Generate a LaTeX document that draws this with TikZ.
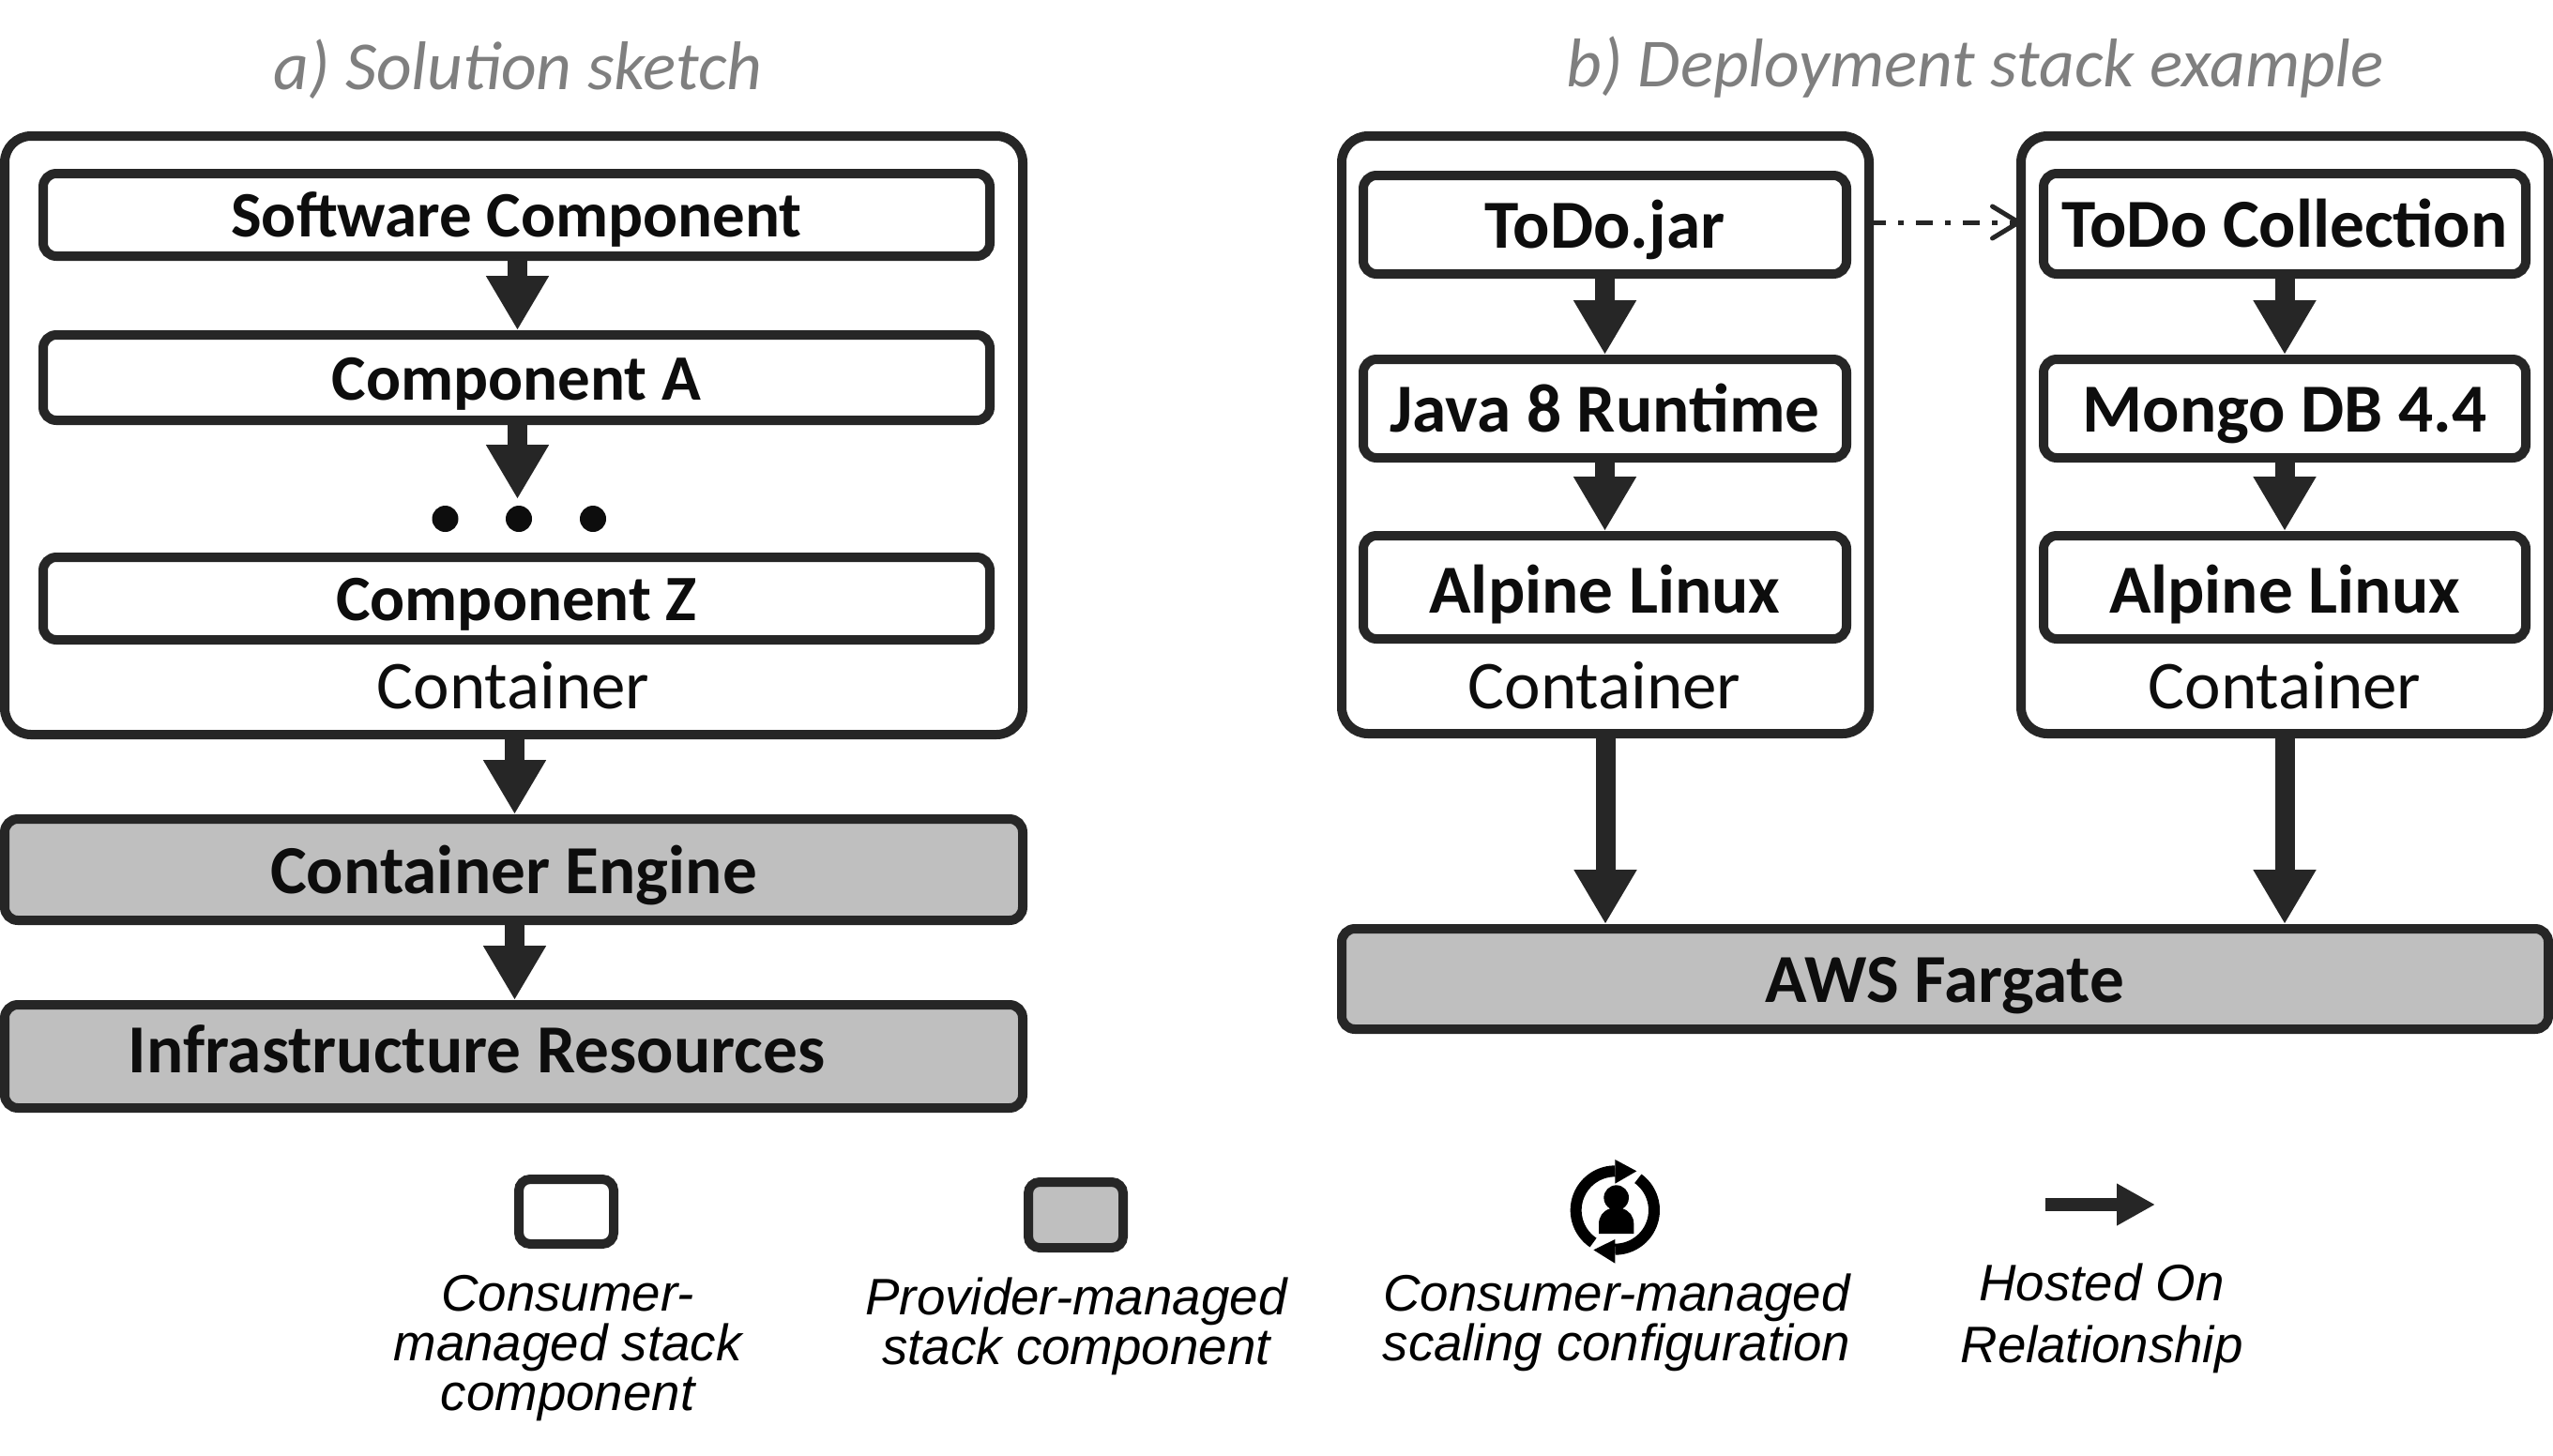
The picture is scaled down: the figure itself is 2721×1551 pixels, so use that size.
\documentclass[tikz,border=0pt]{standalone}
\usepackage{fontspec}
\setmainfont{Carlito}
\newfontfamily\legendfont{Liberation Sans}
\usetikzlibrary{arrows.meta}
\definecolor{strokec}{HTML}{262626}
\definecolor{textc}{HTML}{0D0D0D}
\definecolor{greyc}{HTML}{BFBFBF}
\definecolor{titlec}{HTML}{7F7F7F}
\tikzset{
  box/.style={draw=strokec,line width=10pt,rounded corners=14pt,inner sep=0pt,outer sep=0pt,fill=white,text=textc,align=center,text height=60pt,text depth=10pt},
  comp/.style={box,font=\fontsize{69}{69}\selectfont\bfseries,text height=57pt},
  compb/.style={box,font=\fontsize{73.3}{73.3}\selectfont\bfseries},
  prov/.style={compb,fill=greyc},
  outer/.style={box,rounded corners=28pt,fill=white},
  legbox/.style={box,rounded corners=12pt,text height=0pt,text depth=0pt},
  clabel/.style={inner sep=0pt,anchor=base,text=textc,font=\fontsize{73}{73}\selectfont},
  blabel/.style={inner sep=0pt,anchor=base,text=textc,font=\fontsize{73.3}{73.3}\selectfont\bfseries},
  titlet/.style={inner sep=0pt,text=titlec,font=\fontsize{73.4}{73.4}\selectfont\itshape},
  legendt/.style={inner sep=0pt,text=black,align=center,font=\fontsize{54.7}{53}\selectfont\legendfont\itshape},
  hosted/.style={draw=strokec,line width=21pt,-{Triangle[width=63pt,length=58pt]},shorten >=5pt},
  dotn/.style={circle,fill=textc,minimum size=28pt,inner sep=0pt,outer sep=0pt},
}
\newcommand{\bx}[8][]{\node[#2,#1,minimum width=#5-#4,minimum height=#7-#6] (#3) at ({(#4+#5)/2},{(#6+#7)/2}) {#8};}
\begin{document}
\begin{tikzpicture}[x=1pt,y=-1pt]
\useasboundingbox (0,0) rectangle (2721,1551);
% titles
\node[titlet] (ta) at (552,74) {a) Solution sketch};
\node[titlet] (tb) at (2105,72) {b) Deployment stack example};
% left
\bx{outer}{lc}{5}{1090}{145}{783}{}
\bx{comp}{sw}{46}{1055}{185}{273}{Software Component}
\bx{comp}{ca}{46}{1055}{357}{448}{Component A}
\bx{comp}{cz}{46}{1055}{594}{682}{Component Z}
\node[dotn] (d1) at (474.5,553) {};
\node[dotn] (d2) at (553,553) {};
\node[dotn] (d3) at (632,553) {};
\node[clabel] (lcl) at (547,755) {Container};
\bx{prov}{ce}{5}{1090}{873}{981}{Container Engine}
\bx{prov}{ir}{5}{1090}{1071}{1181}{}
\node[blabel] (irt) at (508,1143) {Infrastructure Resources};
\coordinate (dtip) at (551.5,532);
\draw[hosted] ([xshift=1pt]sw.south) -- ([xshift=1pt]sw.south |- ca.north);
\draw[hosted,shorten >=0pt] (dtip |- ca.south) -- (dtip);
\draw[hosted] ([xshift=1pt]lc.south) -- ([xshift=1pt]lc.south |- ce.north);
\draw[hosted] ([xshift=1pt]ce.south) -- ([xshift=1pt]ir.north);
% right containers
\bx{outer}{c1}{1430}{1992}{145}{782}{}
\bx{outer}{c2}{2154}{2716}{145}{782}{}
\bx{compb}{todo}{1453}{1968}{187}{292}{ToDo.jar}
\bx{compb}{java}{1453}{1968}{383}{488}{Java 8 Runtime}
\bx{compb,text height=65pt}{al1}{1453}{1968}{571}{681}{Alpine Linux}
\bx{compb}{coll}{2178}{2692}{185}{292}{ToDo Collection}
\bx{compb}{mongo}{2178}{2692}{383}{488}{Mongo DB 4.4}
\bx{compb,text height=65pt}{al2}{2178}{2692}{571}{681}{Alpine Linux}
\node[clabel] (c1l) at (1710,755) {Container};
\node[clabel] (c2l) at (2435,755) {Container};
\bx{prov}{aws}{1430}{2716}{990}{1097}{AWS Fargate}
\draw[hosted] (todo.south) -- (java.north);
\draw[hosted] (java.south) -- (al1.north);
\draw[hosted] (coll.south) -- (mongo.north);
\draw[hosted] (mongo.south) -- (al2.north);
\draw[hosted] (c1.south) -- (c1.south |- aws.north);
\draw[hosted] (c2.south) -- (c2.south |- aws.north);
\draw[draw=strokec,line width=5pt,dash pattern=on 18pt off 13pt on 6pt off 13pt,-{Straight Barb[length=28pt,width=34pt,round]}] ([yshift=1.5pt]c1.east |- coll.center) -- ([yshift=1.5pt]c2.west |- coll.center);
% legend
\bx{legbox}{lw}{553}{654}{1257}{1326}{}
\bx{legbox,fill=greyc}{lg}{1096}{1197}{1260}{1330}{}
\node[legendt] (l1) at (605,1437.5) {Consumer-\\managed stack\\component};
\node[legendt] (l2) at (1147,1413.5) {Provider-managed\\stack component};
\node[legendt] (l3) at (1723,1409.5) {Consumer-managed\\scaling configuration};
\node[legendt,font=\fontsize{54.7}{66}\selectfont\legendfont\itshape] (l4) at (2240,1405.5) {Hosted On\\Relationship};
\coordinate (hs) at (2180,1284);
\coordinate (he) at (2297,1284);
\draw[draw=strokec,line width=14pt,-{Triangle[width=42pt,length=41pt]}] (hs) -- (he);
% scaling icon
\begin{scope}[shift={(1650,1225)},x=0.3333pt,y=-0.3333pt]
\draw[black,line width=12pt] plot[domain=236:90,samples=40] ({214+125*cos(\x)},{195-125*sin(\x)});
\draw[black,line width=12pt] plot[domain=54:-90,samples=40] ({214+125*cos(\x)},{195-125*sin(\x)});
\fill[black] (214,33) -- (283,70) -- (214,110) -- cycle;
\fill[black] (214,288) -- (145,322) -- (214,365) -- cycle;
\fill[black] (218,115) .. controls (196,115) and (178,133) .. (178,155) .. controls (178,170) and (186,183) .. (198,190) .. controls (175,197) and (162,215) .. (162,240) -- (162,270) -- (274,270) -- (274,240) .. controls (274,215) and (261,197) .. (238,190) .. controls (250,183) and (258,170) .. (258,155) .. controls (258,133) and (240,115) .. (218,115) -- cycle;
\end{scope}
\end{tikzpicture}
\end{document}
